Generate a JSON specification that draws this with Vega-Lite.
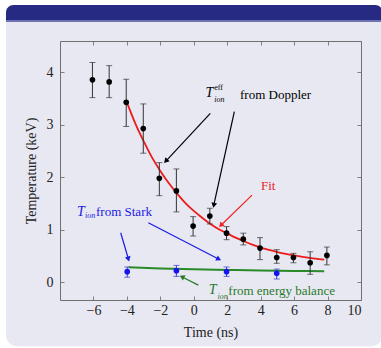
{
  "$schema": "https://vega.github.io/schema/vega-lite/v6.json",
  "width": 301,
  "height": 259,
  "autosize": {"type": "none"},
  "padding": {"left": 60, "top": 41, "right": 20, "bottom": 48},
  "background": "white",
  "config": {
    "view": {"stroke": null},
    "axis": {
      "grid": false,
      "domainColor": "#707070",
      "domainWidth": 1,
      "tickColor": "#808080",
      "tickSize": -4,
      "tickWidth": 1,
      "labelFont": "Liberation Serif",
      "labelFontSize": 14,
      "labelColor": "#222222",
      "titleFont": "Liberation Serif",
      "titleFontSize": 14,
      "titleFontWeight": "normal",
      "titleColor": "#222222"
    }
  },
  "datasets": {
    "doppler": [
      {"t": -6.06, "T": 3.86, "lo": 3.52, "hi": 4.19},
      {"t": -5.06, "T": 3.82, "lo": 3.52, "hi": 4.13},
      {"t": -4.04, "T": 3.43, "lo": 2.97, "hi": 3.87},
      {"t": -3.02, "T": 2.93, "lo": 2.46, "hi": 3.40},
      {"t": -2.06, "T": 1.98, "lo": 1.65, "hi": 2.28},
      {"t": -1.04, "T": 1.74, "lo": 1.34, "hi": 2.16},
      {"t": -0.04, "T": 1.07, "lo": 0.88, "hi": 1.25},
      {"t": 0.96, "T": 1.26, "lo": 1.11, "hi": 1.41},
      {"t": 1.96, "T": 0.935, "lo": 0.81, "hi": 1.06},
      {"t": 2.96, "T": 0.82, "lo": 0.71, "hi": 0.935},
      {"t": 3.96, "T": 0.65, "lo": 0.43, "hi": 0.85},
      {"t": 4.96, "T": 0.47, "lo": 0.36, "hi": 0.62},
      {"t": 5.96, "T": 0.47, "lo": 0.37, "hi": 0.55},
      {"t": 6.96, "T": 0.37, "lo": 0.15, "hi": 0.58},
      {"t": 7.96, "T": 0.51, "lo": 0.33, "hi": 0.67}
    ],
    "stark": [
      {"t": -3.98, "T": 0.20, "lo": 0.095, "hi": 0.29},
      {"t": -1.04, "T": 0.22, "lo": 0.11, "hi": 0.32},
      {"t": 1.96, "T": 0.20, "lo": 0.11, "hi": 0.29},
      {"t": 4.96, "T": 0.17, "lo": 0.06, "hi": 0.25}
    ],
    "fit": [
      {"t": -4.0, "T": 3.43}, {"t": -3.5, "T": 3.03}, {"t": -3.0, "T": 2.69},
      {"t": -2.5, "T": 2.38}, {"t": -2.0, "T": 2.12}, {"t": -1.5, "T": 1.89},
      {"t": -1.0, "T": 1.69}, {"t": -0.5, "T": 1.51}, {"t": 0.0, "T": 1.36},
      {"t": 0.5, "T": 1.23}, {"t": 1.0, "T": 1.11}, {"t": 1.5, "T": 1.01},
      {"t": 2.0, "T": 0.93}, {"t": 2.5, "T": 0.85}, {"t": 3.0, "T": 0.78},
      {"t": 3.5, "T": 0.715}, {"t": 4.0, "T": 0.66}, {"t": 4.5, "T": 0.615},
      {"t": 5.0, "T": 0.575}, {"t": 5.5, "T": 0.54}, {"t": 6.0, "T": 0.51},
      {"t": 6.5, "T": 0.483}, {"t": 7.0, "T": 0.46}, {"t": 7.5, "T": 0.44},
      {"t": 7.8, "T": 0.43}
    ],
    "balance": [
      {"t": -3.9, "T": 0.285}, {"t": -2.0, "T": 0.262}, {"t": 0.0, "T": 0.246},
      {"t": 2.0, "T": 0.233}, {"t": 4.0, "T": 0.223}, {"t": 6.0, "T": 0.215},
      {"t": 7.8, "T": 0.21}
    ],
    "notes": [
      {"part": "label", "group": "doppler", "text": "from Doppler", "t": 2.766, "T": 3.569},
      {"part": "label", "group": "fit", "text": "Fit", "t": 4.02, "T": 1.839},
      {"part": "label", "group": "stark", "text": "from Stark", "t": -5.847, "T": 1.342},
      {"part": "label", "group": "balance", "text": "from energy balance", "t": 2.066, "T": -0.165},
      {"part": "T", "group": "doppler", "text": "T", "t": 0.70, "T": 3.602},
      {"part": "T", "group": "stark", "text": "T", "t": -6.99, "T": 1.342},
      {"part": "T", "group": "balance", "text": "T", "t": 0.89, "T": -0.152},
      {"part": "sub", "group": "doppler", "text": "ion", "t": 1.22, "T": 3.474},
      {"part": "sub", "group": "stark", "text": "ion", "t": -6.50, "T": 1.262},
      {"part": "sub", "group": "balance", "text": "ion", "t": 1.42, "T": -0.29},
      {"part": "sup", "group": "doppler", "text": "eff", "t": 1.22, "T": 3.70}
    ],
    "arrows": [
      {"group": "doppler", "t": 0.989, "T": 3.220, "t2": -1.64, "T2": 2.320, "angle": 223},
      {"group": "doppler", "t": 2.425, "T": 3.251, "t2": 1.207, "T2": 1.482, "angle": 192},
      {"group": "fit", "t": 3.483, "T": 1.661, "t2": 1.656, "T2": 1.096, "angle": 226},
      {"group": "stark", "t": -4.370, "T": 0.942, "t2": -3.924, "T2": 0.457, "angle": 164},
      {"group": "stark", "t": -2.719, "T": 1.132, "t2": 1.451, "T2": 0.447, "angle": 117},
      {"group": "balance", "t": 0.271, "T": -0.056, "t2": -0.663, "T2": 0.095, "angle": 297}
    ]
  },
  "resolve": {"axis": {"x": "independent", "y": "independent"}},
  "layer": [
    {
      "data": {"values": [{}]},
      "mark": {"type": "rect", "fill": "#e8e8f2", "cornerRadius": 11},
      "encoding": {
        "x": {"datum": -11.23, "type": "quantitative", "scale": {"domain": [-8, 10], "nice": false, "zero": false}, "axis": null},
        "x2": {"datum": 11.3},
        "y": {"datum": 5.287, "type": "quantitative", "scale": {"domain": [-0.34, 4.6], "nice": false, "zero": false}, "axis": null},
        "y2": {"datum": -1.22}
      }
    },
    {
      "data": {"values": [{}]},
      "mark": {"type": "rect", "fill": "#272a82", "cornerRadiusTopLeft": 11, "cornerRadiusTopRight": 11},
      "encoding": {
        "x": {"datum": -11.23, "type": "quantitative", "axis": null},
        "x2": {"datum": 11.3},
        "y": {"datum": 5.287, "type": "quantitative", "axis": null},
        "y2": {"datum": 5.0}
      }
    },
    {
      "data": {"values": [{}]},
      "mark": {"type": "rect", "fill": "#6e72b2"},
      "encoding": {
        "x": {"datum": -11.23, "type": "quantitative", "axis": null},
        "x2": {"datum": 11.3},
        "y": {"datum": 5.0, "type": "quantitative", "axis": null},
        "y2": {"datum": 4.963}
      }
    },
    {
      "data": {"name": "fit"},
      "mark": {"type": "line", "color": "#ec1c1c", "strokeWidth": 1.8, "interpolate": "monotone"},
      "encoding": {
        "x": {"field": "t", "type": "quantitative", "axis": {"orient": "top", "values": [-6, -4, -2, 0, 2, 4, 6, 8, 10], "labels": false, "title": null, "zindex": 1}},
        "y": {"field": "T", "type": "quantitative", "axis": {"orient": "right", "values": [0, 1, 2, 3, 4], "labels": false, "title": null, "zindex": 1}}
      }
    },
    {
      "data": {"name": "balance"},
      "mark": {"type": "line", "color": "#2a8a2a", "strokeWidth": 2, "interpolate": "monotone"},
      "encoding": {
        "x": {"field": "t", "type": "quantitative", "axis": null},
        "y": {"field": "T", "type": "quantitative", "axis": null}
      }
    },
    {
      "data": {"name": "doppler"},
      "mark": {"type": "rule", "color": "#333333", "strokeWidth": 1},
      "encoding": {
        "x": {"field": "t", "type": "quantitative", "axis": null},
        "y": {"field": "lo", "type": "quantitative", "axis": null},
        "y2": {"field": "hi"}
      }
    },
    {
      "data": {"name": "doppler"},
      "mark": {"type": "tick", "orient": "horizontal", "color": "#333333", "size": 6, "thickness": 1},
      "encoding": {
        "x": {"field": "t", "type": "quantitative", "axis": null},
        "y": {"field": "lo", "type": "quantitative", "axis": null}
      }
    },
    {
      "data": {"name": "doppler"},
      "mark": {"type": "tick", "orient": "horizontal", "color": "#333333", "size": 6, "thickness": 1},
      "encoding": {
        "x": {"field": "t", "type": "quantitative", "axis": null},
        "y": {"field": "hi", "type": "quantitative", "axis": null}
      }
    },
    {
      "data": {"name": "doppler"},
      "mark": {"type": "circle", "color": "#000000", "size": 32, "opacity": 1},
      "encoding": {
        "x": {"field": "t", "type": "quantitative", "title": "Time (ns)", "axis": {"orient": "bottom", "values": [-6, -4, -2, 0, 2, 4, 6, 8, 10], "labelPadding": 7, "titlePadding": 8, "zindex": 1}},
        "y": {"field": "T", "type": "quantitative", "title": "Temperature (keV)", "axis": {"orient": "left", "values": [0, 1, 2, 3, 4], "labelPadding": 11, "titlePadding": 8, "zindex": 1}}
      }
    },
    {
      "data": {"name": "stark"},
      "mark": {"type": "rule", "color": "#3a3ad0", "strokeWidth": 1},
      "encoding": {
        "x": {"field": "t", "type": "quantitative", "axis": null},
        "y": {"field": "lo", "type": "quantitative", "axis": null},
        "y2": {"field": "hi"}
      }
    },
    {
      "data": {"name": "stark"},
      "mark": {"type": "tick", "orient": "horizontal", "color": "#3a3ad0", "size": 6, "thickness": 1},
      "encoding": {
        "x": {"field": "t", "type": "quantitative", "axis": null},
        "y": {"field": "lo", "type": "quantitative", "axis": null}
      }
    },
    {
      "data": {"name": "stark"},
      "mark": {"type": "tick", "orient": "horizontal", "color": "#3a3ad0", "size": 6, "thickness": 1},
      "encoding": {
        "x": {"field": "t", "type": "quantitative", "axis": null},
        "y": {"field": "hi", "type": "quantitative", "axis": null}
      }
    },
    {
      "data": {"name": "stark"},
      "mark": {"type": "circle", "color": "#1414f0", "size": 32, "opacity": 1},
      "encoding": {
        "x": {"field": "t", "type": "quantitative", "axis": null},
        "y": {"field": "T", "type": "quantitative", "axis": null}
      }
    },
    {
      "data": {"name": "arrows"},
      "mark": {"type": "rule", "strokeWidth": 1.2},
      "encoding": {
        "x": {"field": "t", "type": "quantitative", "axis": null},
        "y": {"field": "T", "type": "quantitative", "axis": null},
        "x2": {"field": "t2"},
        "y2": {"field": "T2"},
        "color": {"field": "group", "type": "nominal", "legend": null, "scale": {"domain": ["doppler", "fit", "stark", "balance"], "range": ["#000000", "#ee2222", "#1a1ae6", "#2a7a2a"]}}
      }
    },
    {
      "data": {"name": "arrows"},
      "mark": {"type": "point", "shape": "triangle", "filled": true, "size": 34, "opacity": 1},
      "encoding": {
        "x": {"field": "t2", "type": "quantitative", "axis": null},
        "y": {"field": "T2", "type": "quantitative", "axis": null},
        "angle": {"field": "angle", "type": "quantitative", "scale": null},
        "color": {"field": "group", "type": "nominal", "legend": null, "scale": {"domain": ["doppler", "fit", "stark", "balance"], "range": ["#000000", "#ee2222", "#1a1ae6", "#2a7a2a"]}}
      }
    },
    {
      "data": {"name": "notes"},
      "transform": [{"filter": "datum.part === 'label'"}],
      "mark": {"type": "text", "font": "Liberation Serif", "fontSize": 13, "align": "left", "baseline": "middle"},
      "encoding": {
        "x": {"field": "t", "type": "quantitative", "axis": null},
        "y": {"field": "T", "type": "quantitative", "axis": null},
        "text": {"field": "text"},
        "color": {"field": "group", "type": "nominal", "legend": null, "scale": {"domain": ["doppler", "fit", "stark", "balance"], "range": ["#111111", "#cc3030", "#2a2ad8", "#3a8a3a"]}}
      }
    },
    {
      "data": {"name": "notes"},
      "transform": [{"filter": "datum.part === 'T'"}],
      "mark": {"type": "text", "font": "Liberation Serif", "fontSize": 14, "fontStyle": "italic", "align": "left", "baseline": "middle"},
      "encoding": {
        "x": {"field": "t", "type": "quantitative", "axis": null},
        "y": {"field": "T", "type": "quantitative", "axis": null},
        "text": {"field": "text"},
        "color": {"field": "group", "type": "nominal", "legend": null, "scale": {"domain": ["doppler", "fit", "stark", "balance"], "range": ["#111111", "#cc3030", "#2a2ad8", "#3a8a3a"]}}
      }
    },
    {
      "data": {"name": "notes"},
      "transform": [{"filter": "datum.part === 'sub'"}],
      "mark": {"type": "text", "font": "Liberation Serif", "fontSize": 8, "fontStyle": "italic", "align": "left", "baseline": "middle"},
      "encoding": {
        "x": {"field": "t", "type": "quantitative", "axis": null},
        "y": {"field": "T", "type": "quantitative", "axis": null},
        "text": {"field": "text"},
        "color": {"field": "group", "type": "nominal", "legend": null, "scale": {"domain": ["doppler", "fit", "stark", "balance"], "range": ["#111111", "#cc3030", "#2a2ad8", "#3a8a3a"]}}
      }
    },
    {
      "data": {"name": "notes"},
      "transform": [{"filter": "datum.part === 'sup'"}],
      "mark": {"type": "text", "font": "Liberation Serif", "fontSize": 8, "align": "left", "baseline": "middle"},
      "encoding": {
        "x": {"field": "t", "type": "quantitative", "axis": null},
        "y": {"field": "T", "type": "quantitative", "axis": null},
        "text": {"field": "text"},
        "color": {"field": "group", "type": "nominal", "legend": null, "scale": {"domain": ["doppler", "fit", "stark", "balance"], "range": ["#111111", "#cc3030", "#2a2ad8", "#3a8a3a"]}}
      }
    }
  ]
}
